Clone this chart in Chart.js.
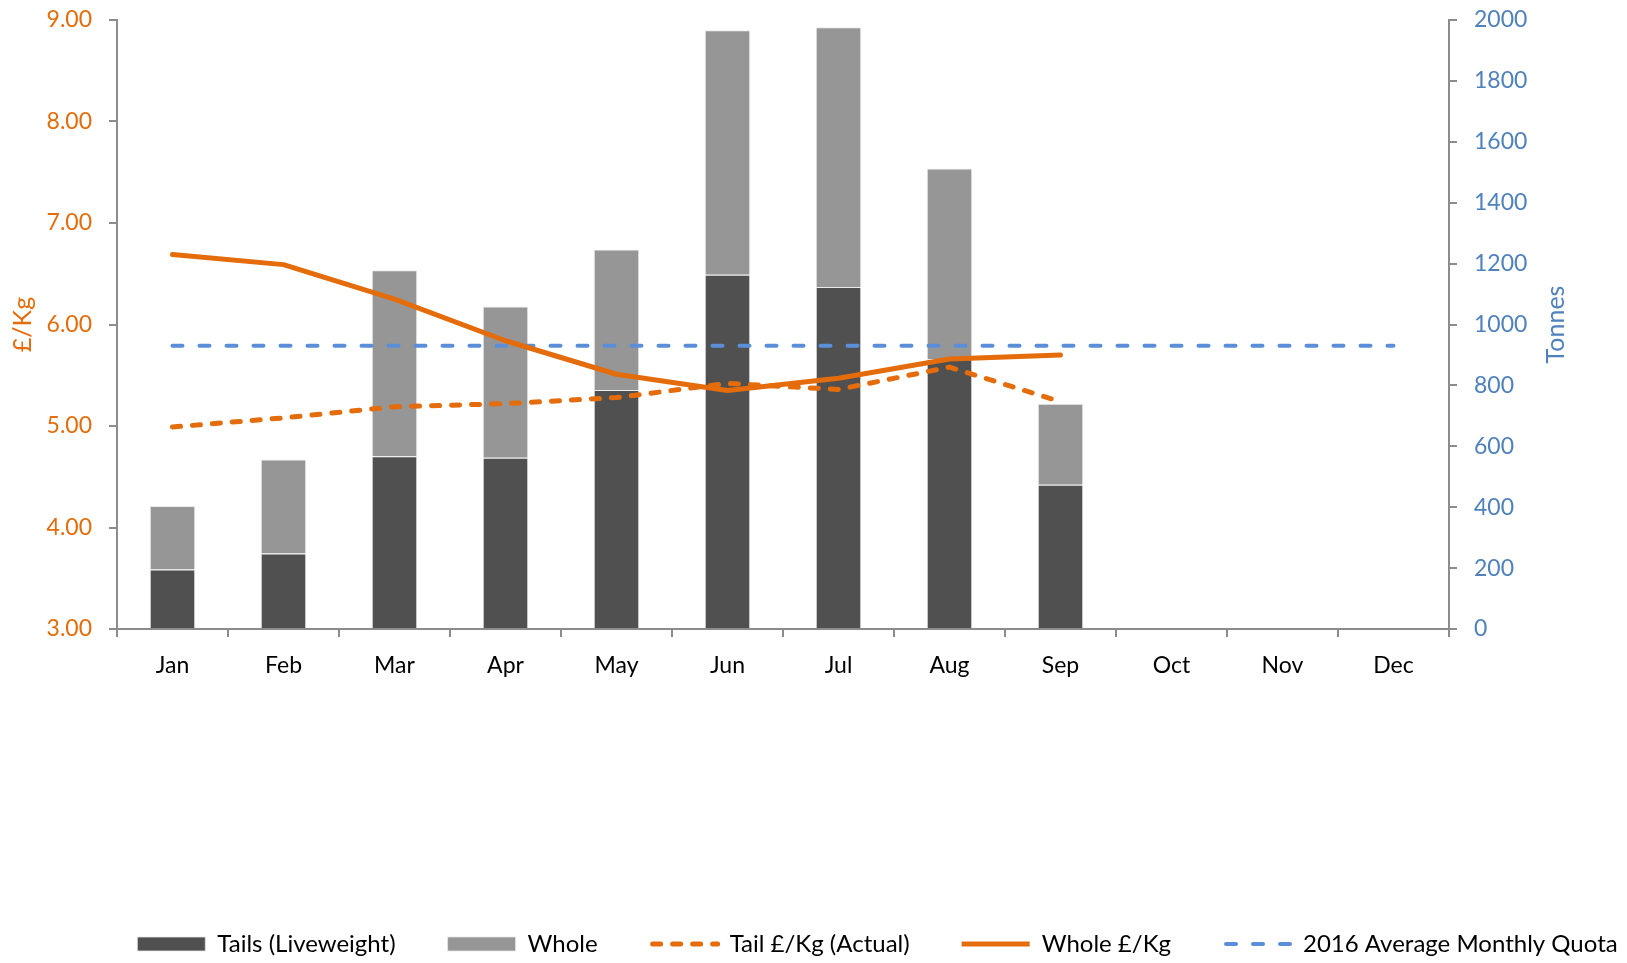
<!DOCTYPE html>
<html>
<head>
<meta charset="utf-8">
<script src="https://cdn.jsdelivr.net/npm/chart.js@4"></script>
<style>
  html, body { margin: 0; padding: 0; background: #fff; }
  #wrap { width: 1627px; height: 963px; }
</style>
</head>
<body>
<div id="wrap"><canvas id="chart" width="1627" height="963"></canvas></div>
<script>
const months = ['Jan', 'Feb', 'Mar', 'Apr', 'May', 'Jun', 'Jul', 'Aug', 'Sep', 'Oct', 'Nov', 'Dec'];

// tonnes (right axis)
const tailsTonnes = [195, 248, 567, 562, 785, 1163, 1123, 886, 474, null, null, null];
const wholeTonnes = [209, 309, 611, 497, 461, 803, 853, 626, 266, null, null, null];
const quotaTonnes = [930, 930, 930, 930, 930, 930, 930, 930, 930, 930, 930, 930];

// £/Kg (left axis)
const tailPrice = [4.99, 5.08, 5.19, 5.22, 5.28, 5.42, 5.36, 5.58, 5.24, null, null, null];
const wholePrice = [6.69, 6.59, 6.25, 5.84, 5.51, 5.35, 5.47, 5.66, 5.70, null, null, null];

const ORANGE = '#E46C0A';
const BLUE_TXT = '#4F81BD';
const BLUE_LINE = '#5B8ED8';
const AXIS = '#8C8C8C';
const FONT = 'Lato';
const LEGEND_SIZE = 24;
const LEGEND_BOX = 68;
const LEGEND_SHIFT = 64;

Chart.defaults.font.family = FONT;

const legendStyles = ['rect', 'rect', 'line', 'line', 'line'];

// the legend in the original sits right of centre
// (hit boxes get rebuilt by the legend's own afterUpdate, so they follow)
const legendShift = {
  id: 'legendShift',
  afterLayout(chart) {
    const lg = chart.legend;
    if (!lg) return;
    lg.left += LEGEND_SHIFT;
    lg.right += LEGEND_SHIFT;
  }
};

// chart.js skips line dashes for point-style legend boxes, so the
// line swatches get drawn here instead
const legendLines = {
  id: 'legendLines',
  afterDraw(chart) {
    const lg = chart.legend;
    if (!lg || !lg.legendHitBoxes) return;
    const ctx = chart.ctx;
    lg.legendItems.forEach((item, i) => {
      if (legendStyles[item.datasetIndex] !== 'line') return;
      const ds = chart.data.datasets[item.datasetIndex];
      const box = lg.legendHitBoxes[i];
      const y = box.top + LEGEND_SIZE / 2;
      ctx.save();
      ctx.strokeStyle = ds.borderColor;
      ctx.lineWidth = ds.borderWidth;
      ctx.lineCap = ds.borderDash ? 'round' : 'butt';
      ctx.setLineDash(ds.borderDash || []);
      ctx.beginPath();
      ctx.moveTo(box.left + (ds.borderDash ? 3 : 0), y);
      ctx.lineTo(box.left + LEGEND_BOX, y);
      ctx.stroke();
      ctx.restore();
    });
  }
};

const axisTitles = {
  id: 'axisTitles',
  afterDraw(chart) {
    const ctx = chart.ctx;
    const a = chart.chartArea;
    const midY = (a.top + a.bottom) / 2;
    ctx.save();
    ctx.font = '25px ' + FONT;
    ctx.textAlign = 'center';
    ctx.textBaseline = 'middle';
    ctx.fillStyle = ORANGE;
    ctx.translate(23, midY);
    ctx.rotate(-Math.PI / 2);
    ctx.fillText('£/Kg', 0, 0);
    ctx.restore();
    ctx.save();
    ctx.font = '25px ' + FONT;
    ctx.textAlign = 'center';
    ctx.textBaseline = 'middle';
    ctx.fillStyle = BLUE_TXT;
    ctx.translate(chart.width - 71, midY);
    ctx.rotate(-Math.PI / 2);
    ctx.fillText('Tonnes', 0, 0);
    ctx.restore();
  }
};

new Chart(document.getElementById('chart'), {
  data: {
    labels: months,
    datasets: [
      {
        type: 'bar',
        label: 'Tails (Liveweight)',
        data: tailsTonnes,
        backgroundColor: '#505050',
        borderColor: 'rgba(230,230,230,0.8)',
        borderWidth: 1,
        yAxisID: 'y1',
        stack: 'tonnes',
        categoryPercentage: 1,
        barPercentage: 0.41,
        order: 4
      },
      {
        type: 'bar',
        label: 'Whole',
        data: wholeTonnes,
        backgroundColor: '#969696',
        borderColor: 'rgba(230,230,230,0.8)',
        borderWidth: 1,
        yAxisID: 'y1',
        stack: 'tonnes',
        categoryPercentage: 1,
        barPercentage: 0.41,
        order: 5
      },
      {
        type: 'line',
        label: 'Tail £/Kg (Actual)',
        data: tailPrice,
        borderColor: ORANGE,
        backgroundColor: ORANGE,
        borderWidth: 5,
        borderDash: [8, 12],
        borderCapStyle: 'round',
        pointRadius: 0,
        tension: 0,
        yAxisID: 'y',
        order: 2
      },
      {
        type: 'line',
        label: 'Whole £/Kg',
        data: wholePrice,
        borderColor: ORANGE,
        backgroundColor: ORANGE,
        borderWidth: 5,
        borderCapStyle: 'round',
        borderJoinStyle: 'round',
        pointRadius: 0,
        tension: 0,
        yAxisID: 'y',
        order: 1
      },
      {
        type: 'line',
        label: '2016 Average Monthly Quota',
        data: quotaTonnes,
        borderColor: BLUE_LINE,
        backgroundColor: BLUE_LINE,
        borderWidth: 4,
        borderDash: [10, 17],
        borderCapStyle: 'round',
        pointRadius: 0,
        yAxisID: 'y1',
        order: 3
      }
    ]
  },
  options: {
    responsive: false,
    animation: false,
    layout: { padding: { top: 20, left: 0, right: 0, bottom: -3 } },
    plugins: {
      tooltip: { enabled: false },
      legend: {
        position: 'bottom',
        labels: {
          color: '#000',
          font: { size: LEGEND_SIZE },
          usePointStyle: true,
          pointStyleWidth: LEGEND_BOX,
          boxHeight: 14,
          padding: 52,
          sort: (a, b) => a.datasetIndex - b.datasetIndex,
          generateLabels: chart => Chart.defaults.plugins.legend.labels.generateLabels(chart)
            .map(l => Object.assign(l, {
              pointStyle: legendStyles[l.datasetIndex],
              strokeStyle: legendStyles[l.datasetIndex] === 'line' ? 'rgba(0,0,0,0)' : l.strokeStyle
            }))
        }
      }
    },
    scales: {
      x: {
        offset: true,
        afterFit: s => { s.height = 251; },
        grid: { display: true, offset: true, drawOnChartArea: false, drawTicks: true, tickLength: 8, color: AXIS, lineWidth: 2 },
        border: { display: true, color: AXIS, width: 2 },
        ticks: { color: '#000', font: { size: 23 }, padding: 15, maxRotation: 0 }
      },
      y: {
        position: 'left',
        min: 3,
        max: 9,
        afterFit: s => { s.width = 117; s.paddingTop = 0; s.paddingBottom = 0; },
        ticks: { stepSize: 1, color: ORANGE, font: { size: 23 }, padding: 17, callback: v => v.toFixed(2) },
        grid: { display: true, drawOnChartArea: false, drawTicks: true, tickLength: 8, color: AXIS, lineWidth: 2 },
        border: { display: true, color: AXIS, width: 2 }
      },
      y1: {
        position: 'right',
        min: 0,
        max: 2000,
        afterFit: s => { s.width = 178; s.paddingTop = 0; s.paddingBottom = 0; },
        ticks: { stepSize: 200, color: BLUE_TXT, font: { size: 23 }, padding: 17, callback: v => String(v) },
        grid: { display: true, drawOnChartArea: false, drawTicks: true, tickLength: 8, color: AXIS, lineWidth: 2 },
        border: { display: true, color: AXIS, width: 2 }
      }
    }
  },
  plugins: [axisTitles, legendLines, legendShift]
});
</script>
</body>
</html>
